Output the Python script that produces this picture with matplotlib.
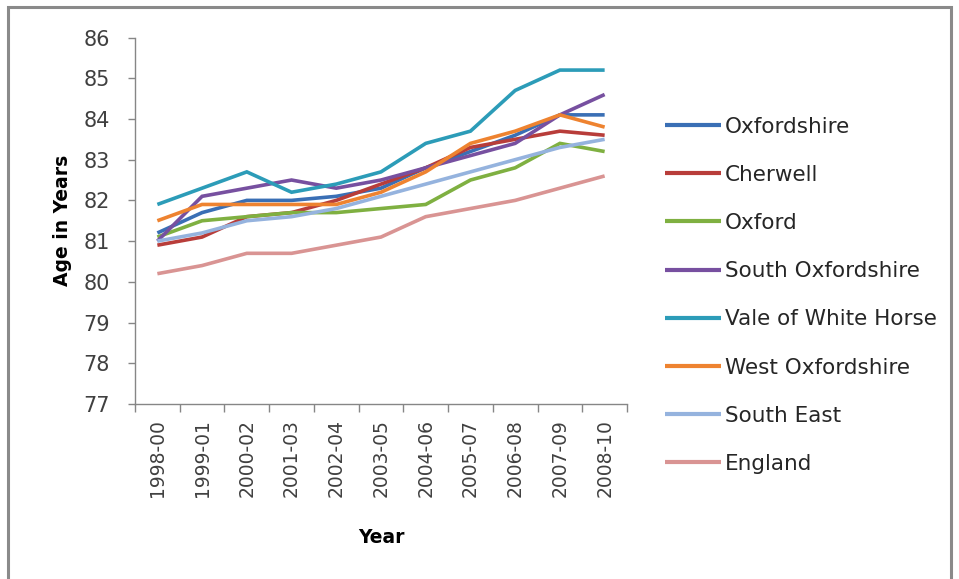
import matplotlib
matplotlib.use("Agg")
import matplotlib.pyplot as plt
from matplotlib.patches import Rectangle

years = ["1998-00", "1999-01", "2000-02", "2001-03", "2002-04", "2003-05",
         "2004-06", "2005-07", "2006-08", "2007-09", "2008-10"]

oxfordshire = [81.2, 81.7, 82.0, 82.0, 82.1, 82.3, 82.8, 83.2, 83.6, 84.1, 84.1]
cherwell = [80.9, 81.1, 81.6, 81.7, 82.0, 82.4, 82.8, 83.3, 83.5, 83.7, 83.6]
oxford = [81.1, 81.5, 81.6, 81.7, 81.7, 81.8, 81.9, 82.5, 82.8, 83.4, 83.2]
south_oxfordshire = [81.0, 82.1, 82.3, 82.5, 82.3, 82.5, 82.8, 83.1, 83.4, 84.1, 84.6]
vale_of_white_horse = [81.9, 82.3, 82.7, 82.2, 82.4, 82.7, 83.4, 83.7, 84.7, 85.2, 85.2]
west_oxfordshire = [81.5, 81.9, 81.9, 81.9, 81.9, 82.2, 82.7, 83.4, 83.7, 84.1, 83.8]
south_east = [81.0, 81.2, 81.5, 81.6, 81.8, 82.1, 82.4, 82.7, 83.0, 83.3, 83.5]
england = [80.2, 80.4, 80.7, 80.7, 80.9, 81.1, 81.6, 81.8, 82.0, 82.3, 82.6]

series_names = ["Oxfordshire", "Cherwell", "Oxford", "South Oxfordshire",
                "Vale of White Horse", "West Oxfordshire", "South East", "England"]
series_values = [oxfordshire, cherwell, oxford, south_oxfordshire,
                 vale_of_white_horse, west_oxfordshire, south_east, england]
colors = ["#3A6FB5", "#B83D3A", "#7FB041", "#7750A0",
          "#2C9CB8", "#EE8330", "#95B3DE", "#D99493"]

y_ticks = list(range(77, 87))

fig = plt.figure(figsize=(9.59, 5.79), dpi=100)
ax = fig.add_axes([135/959, 1-404/579, (627-135)/959, (404-37.5)/579])

x = list(range(len(years)))
for name, vals, c in zip(series_names, series_values, colors):
    ax.plot(x, vals, color=c, lw=2.6, label=name, solid_capstyle="butt",
            solid_joinstyle="miter")

ax.set_xlim(-0.5, len(years) - 0.5)
ax.set_ylim(77, 86)
ax.set_yticks(y_ticks)
ax.set_yticklabels([str(v) for v in y_ticks])

# category labels centered, tick marks at boundaries
ax.set_xticks(x)
ax.set_xticklabels(years, rotation=90)
ax.set_xticks([i - 0.5 for i in range(len(years) + 1)], minor=True)
ax.tick_params(axis="x", which="major", length=0, pad=11, labelsize=13.5,
               labelcolor="#404040")
ax.tick_params(axis="x", which="minor", length=6, width=1, color="#868686",
               direction="out")
ax.tick_params(axis="y", which="major", length=5, width=1, color="#868686",
               pad=13, labelsize=15, labelcolor="#404040")

for s in ["top", "right"]:
    ax.spines[s].set_visible(False)
for s in ["left", "bottom"]:
    ax.spines[s].set_color("#868686")
    ax.spines[s].set_linewidth(1)

ax.set_ylabel("Age in Years", fontsize=13.5, fontweight="bold", labelpad=8)
ax.set_xlabel("Year", fontsize=13.5, fontweight="bold", labelpad=22)

leg = fig.legend(loc="upper left", bbox_to_anchor=(656/959, 1-108/579),
                 frameon=False, fontsize=15.5, handlelength=2.6,
                 handletextpad=0.2, labelspacing=1.31, borderaxespad=0)
for t in leg.get_texts():
    t.set_color("#262626")
for h in leg.get_lines():
    h.set_linewidth(3)

fig.patches.append(Rectangle((8/959, -0.1), (951-8)/959, 1.1 - 7/579,
                             transform=fig.transFigure, fill=False,
                             edgecolor="#8a8a8a", lw=2.2))

fig.savefig("out.png", dpi=100)
